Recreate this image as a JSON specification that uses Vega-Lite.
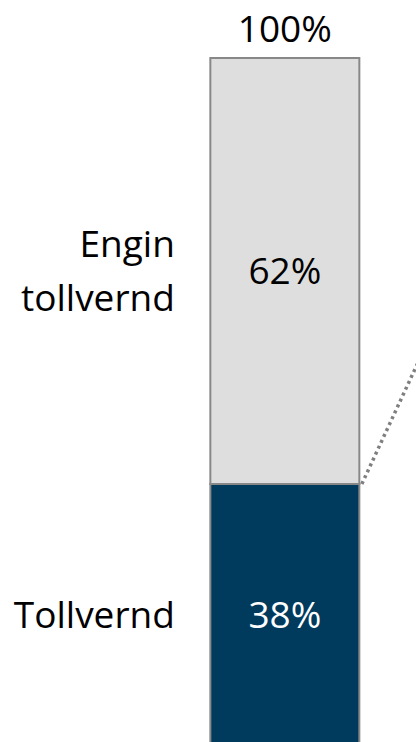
{
  "$schema": "https://vega.github.io/schema/vega-lite/v6.json",
  "width": 416,
  "height": 742,
  "autosize": {"type": "fit", "contains": "padding"},
  "padding": 0,
  "config": {"view": {"stroke": null}, "font": "Open Sans"},
  "datasets": {
    "hlutar": [
      {"stolpi": 0, "flokkur": "Tollvernd", "heiti": "Tollvernd", "hlutfall": 38, "rod": 1},
      {"stolpi": 0, "flokkur": "Engin tollvernd", "heiti": "Engin\ntollvernd", "hlutfall": 62, "rod": 2}
    ],
    "samtals": [{"stolpi": 0, "hlutfall": 100, "texti": "100%"}],
    "tenging": [{"fra": 0, "til": 1, "y_fra": 38, "y_til": 100}]
  },
  "layer": [
    {
      "data": {"name": "hlutar"},
      "transform": [
        {"stack": "hlutfall", "groupby": ["stolpi"], "sort": [{"field": "rod"}], "as": ["y0", "y1"]},
        {"calculate": "(datum.y0 + datum.y1) / 2", "as": "ymid"},
        {"calculate": "datum.hlutfall + '%'", "as": "gildi"}
      ],
      "layer": [
        {
          "mark": {"type": "bar", "width": 149, "stroke": "#888888", "strokeWidth": 2, "clip": true, "orient": "vertical"},
          "encoding": {
            "x": {"field": "stolpi", "type": "quantitative", "scale": {"domain": [-0.803, 0.362], "nice": false, "zero": false}, "axis": null},
            "y": {"field": "y0", "type": "quantitative", "scale": {"domain": [0.45, 108.44], "nice": false, "zero": false}, "axis": null},
            "y2": {"field": "y1"},
            "color": {"field": "flokkur", "type": "nominal", "scale": {"domain": ["Tollvernd", "Engin tollvernd"], "range": ["#003a5d", "#dedede"]}, "legend": null}
          }
        },
        {
          "mark": {"type": "text", "fontSize": 37, "baseline": "middle", "align": "center", "dy": 2},
          "encoding": {
            "x": {"field": "stolpi", "type": "quantitative", "scale": {"domain": [-0.803, 0.362], "nice": false, "zero": false}, "axis": null},
            "y": {"field": "ymid", "type": "quantitative", "scale": {"domain": [0.45, 108.44], "nice": false, "zero": false}, "axis": null},
            "text": {"field": "gildi"},
            "color": {"condition": {"test": "datum.flokkur === 'Tollvernd'", "value": "#ffffff"}, "value": "#000000"}
          }
        },
        {
          "transform": [{"filter": "datum.rod === 1"}],
          "mark": {"type": "text", "fontSize": 37, "baseline": "middle", "align": "right", "dx": -110, "dy": 2, "color": "#000000"},
          "encoding": {
            "x": {"field": "stolpi", "type": "quantitative", "scale": {"domain": [-0.803, 0.362], "nice": false, "zero": false}, "axis": null},
            "y": {"field": "ymid", "type": "quantitative", "scale": {"domain": [0.45, 108.44], "nice": false, "zero": false}, "axis": null},
            "text": {"field": "heiti"}
          }
        },
        {
          "transform": [{"filter": "datum.rod === 2"}],
          "mark": {"type": "text", "fontSize": 37, "baseline": "middle", "align": "right", "dx": -110, "dy": -25, "lineBreak": "\n", "lineHeight": 54, "color": "#000000"},
          "encoding": {
            "x": {"field": "stolpi", "type": "quantitative", "scale": {"domain": [-0.803, 0.362], "nice": false, "zero": false}, "axis": null},
            "y": {"field": "ymid", "type": "quantitative", "scale": {"domain": [0.45, 108.44], "nice": false, "zero": false}, "axis": null},
            "text": {"field": "heiti"}
          }
        }
      ]
    },
    {
      "data": {"name": "samtals"},
      "mark": {"type": "text", "fontSize": 37, "baseline": "alphabetic", "align": "center", "dy": -16, "color": "#000000"},
      "encoding": {
        "x": {"field": "stolpi", "type": "quantitative", "scale": {"domain": [-0.803, 0.362], "nice": false, "zero": false}, "axis": null},
        "y": {"field": "hlutfall", "type": "quantitative", "scale": {"domain": [0.45, 108.44], "nice": false, "zero": false}, "axis": null},
        "text": {"field": "texti"}
      }
    },
    {
      "data": {"name": "tenging"},
      "mark": {"type": "rule", "stroke": "#7f7f7f", "strokeWidth": 3.5, "strokeDash": [3, 3.5], "xOffset": 77, "x2Offset": -74.5, "clip": true},
      "encoding": {
        "x": {"field": "fra", "type": "quantitative", "scale": {"domain": [-0.803, 0.362], "nice": false, "zero": false}, "axis": null},
        "x2": {"field": "til"},
        "y": {"field": "y_fra", "type": "quantitative", "scale": {"domain": [0.45, 108.44], "nice": false, "zero": false}, "axis": null},
        "y2": {"field": "y_til"}
      }
    }
  ]
}
